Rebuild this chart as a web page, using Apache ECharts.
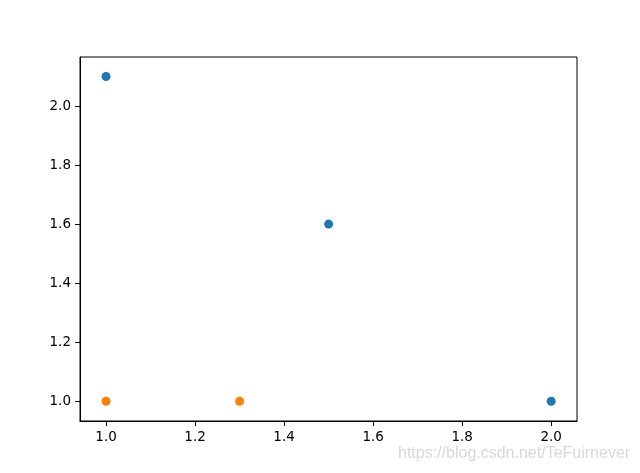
<!DOCTYPE html>
<html>
<head>
<meta charset="utf-8">
<script src="https://cdn.jsdelivr.net/npm/echarts@6/dist/echarts.min.js"></script>
<style>
html,body{margin:0;padding:0;background:#fff;}
#chart{width:640px;height:473px;}
</style>
</head>
<body>
<div id="chart"></div>
<script>
const blueX = [1.0, 1.5, 2.0];
const blueY = [2.1, 1.6, 1.0];
const orangeX = [1.0, 1.3];
const orangeY = [1.0, 1.0];
const xTicks = [1.0, 1.2, 1.4, 1.6, 1.8, 2.0];
const yTicks = [1.0, 1.2, 1.4, 1.6, 1.8, 2.0];
const watermark = 'https://blog.csdn.net/TeFuirnever';

const chart = echarts.init(document.getElementById('chart'), null, {renderer: 'canvas'});
const font = 'DejaVu Sans';
function axisCommon(ticks) {
  return {
    type: 'value',
    splitLine: {show: false},
    axisLine: {show: true, onZero: false, lineStyle: {color: '#000', width: 1}},
    axisTick: {show: true, inside: false, length: 5, customValues: ticks, lineStyle: {color: '#000', width: 1}},
    axisLabel: {show: true, customValues: ticks, color: '#000', fontFamily: font, fontSize: 13.5, margin: 9,
      formatter: v => v.toFixed(1)}
  };
}
const xAxis = Object.assign(axisCommon(xTicks), {min: 0.9415, max: 2.058});
const yAxis = Object.assign(axisCommon(yTicks), {min: 0.933, max: 2.166});
chart.setOption({
  animation: false,
  backgroundColor: '#fff',
  grid: {left: 80, right: 63, top: 57, bottom: 52, show: true, borderColor: '#000', borderWidth: 1, backgroundColor: 'transparent'},
  xAxis: xAxis,
  yAxis: yAxis,
  series: [
    {type: 'scatter', symbolSize: 9, itemStyle: {color: '#1f77b4', opacity: 1},
      data: blueX.map((x, i) => [x, blueY[i]])},
    {type: 'scatter', symbolSize: 9, itemStyle: {color: '#ff7f0e', opacity: 1},
      data: orangeX.map((x, i) => [x, orangeY[i]])}
  ],
  graphic: [{
    type: 'text', left: 398, top: 446,
    style: {text: watermark, fill: '#d8d8d8', font: '16px "Liberation Sans", Arial, sans-serif'}
  }]
});
</script>
</body>
</html>
